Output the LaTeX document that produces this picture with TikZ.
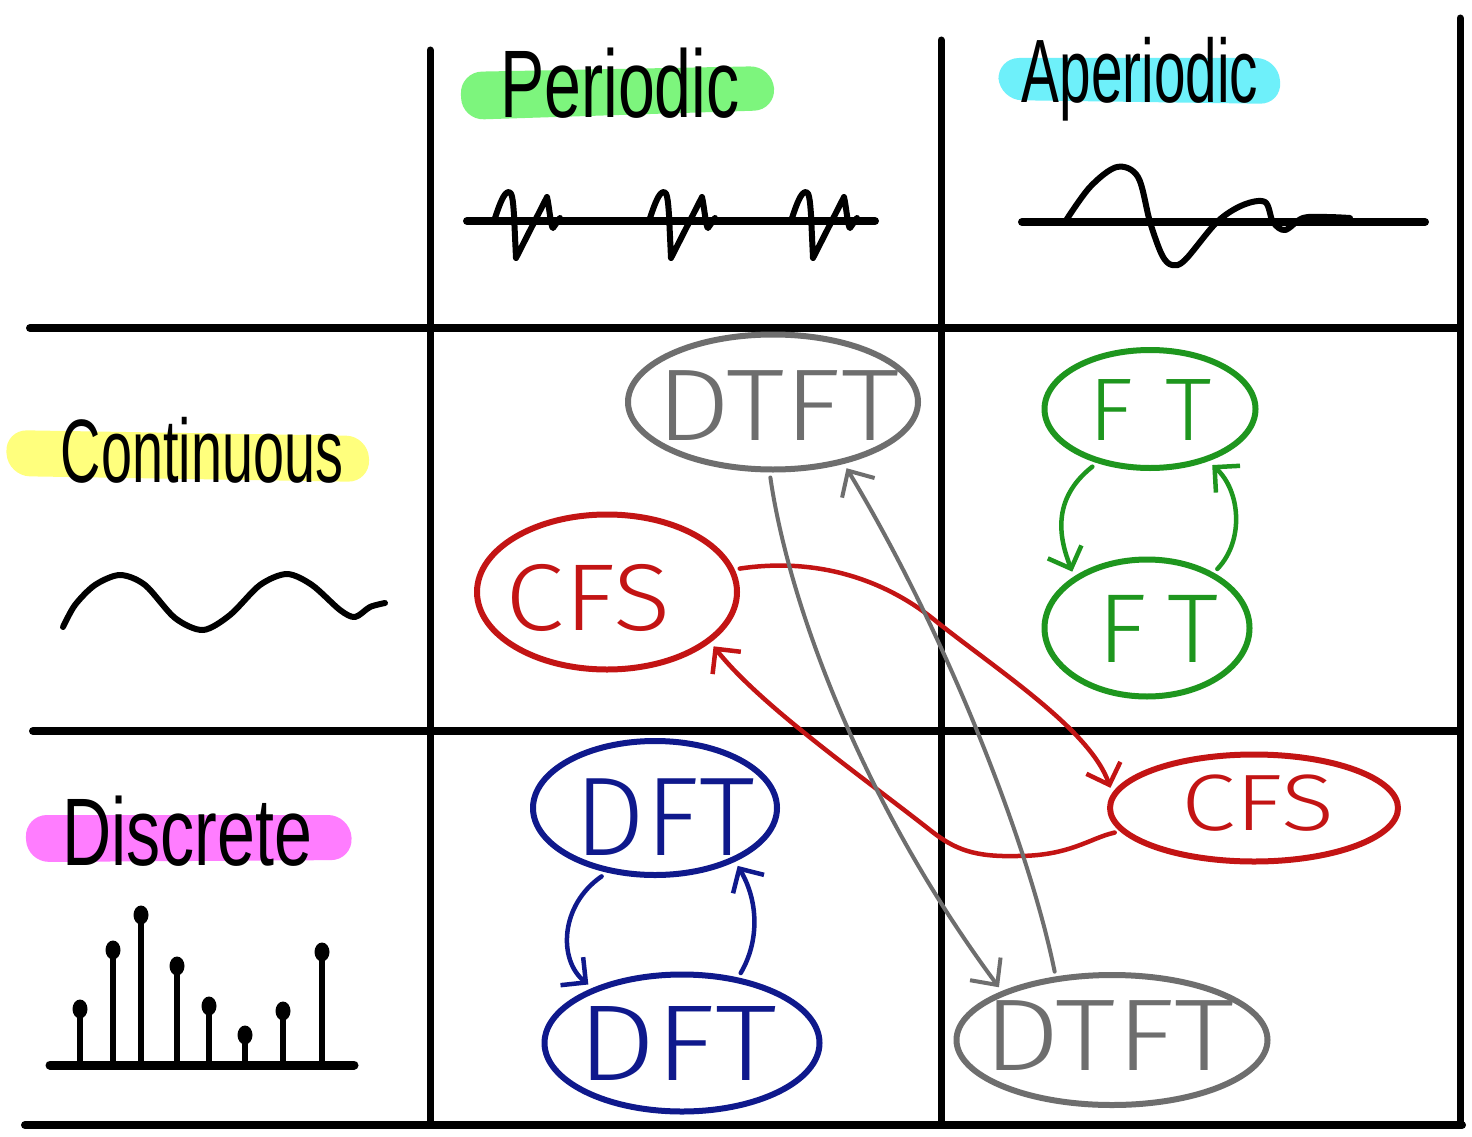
\documentclass[tikz,border=0pt]{standalone}
\usepackage{fontspec}
\setmainfont{Liberation Sans}
\IfFontExistsTF{Fira Sans Light}{\newfontfamily\handfont{Fira Sans Light}}{%
  \IfFontExistsTF{Lato Light}{\newfontfamily\handfont{Lato Light}}{%
    \IfFontExistsTF{Open Sans Light}{\newfontfamily\handfont{Open Sans Light}}{%
      \newfontfamily\handfont{Carlito}}}}
\usepackage{graphicx}
\usetikzlibrary{arrows.meta,shapes.geometric}
\definecolor{hlgreen}{RGB}{125,245,125}
\definecolor{hlcyan}{RGB}{110,240,250}
\definecolor{hlyellow}{RGB}{255,255,125}
\definecolor{hlpink}{RGB}{255,125,255}
\definecolor{cgray}{RGB}{110,110,110}
\definecolor{cred}{RGB}{195,20,20}
\definecolor{cgreen}{RGB}{30,150,30}
\definecolor{cblue}{RGB}{15,25,140}
\newcommand{\etx}[5]{\makebox[0pt]{\hspace*{#1}\raisebox{#2}{\handfont\fontsize{#3}{#3}\selectfont\scalebox{#4}[1]{#5}}}}
\begin{document}
\begin{tikzpicture}[x=1pt,y=-1pt,line cap=round,line join=round,
  gridline/.style={line width=7pt},
  wave/.style={line width=6pt},
  hl/.style={rounded corners=22pt},
  title/.style={inner sep=0pt,anchor=base},
  ell/.style={ellipse,draw,line width=6pt,inner sep=0pt,outer sep=8pt,text height=0pt,text depth=0pt},
  conn/.style={line width=4.5pt,-{Straight Barb[length=18pt,width=36pt]}},
  gconn/.style={line width=4pt,-{Straight Barb[length=20pt,width=38pt]}}]
\useasboundingbox (0,0) rectangle (1472,1137);
\fill[white] (0,0) rectangle (1472,1137);
% grid
\draw[gridline] (430,50) -- (430,1125);
\draw[gridline] (941,40) -- (941,1125);
\draw[gridline] (1460,18) -- (1460,1125);
\draw[gridline,line width=8pt] (30,328) -- (1458,328);
\draw[gridline,line width=8pt] (33,731) -- (1458,731);
\draw[gridline,line width=8pt] (25,1125) -- (1462,1125);
% highlights
\fill[hlgreen,hl] (460,72) -- (772,66) -- (776,110) -- (462,120) -- cycle;
\fill[hlcyan,hl] (997,58) -- (1278,58) -- (1282,104) -- (1000,100) -- cycle;
\fill[hlyellow,hl] (5,430) -- (368,436) -- (370,482) -- (8,476) -- cycle;
\fill[hlpink,hl] (25,815) -- (350,815) -- (353,860) -- (27,862) -- cycle;
% titles
\node[title,font=\fontsize{96}{110}\selectfont] (periodic) at (620,118) {\scalebox{0.69}[1]{Periodic}};
\node[title,font=\fontsize{90}{104}\selectfont] (aperiodic) at (1140,103) {\scalebox{0.63}[1]{Aperiodic}};
\node[title,font=\fontsize{90}{104}\selectfont] (continuous) at (202,482) {\scalebox{0.62}[1]{Continuous}};
\node[title,font=\fontsize{96}{110}\selectfont] (discrete) at (187,865) {\scalebox{0.71}[1]{Discrete}};
% periodic wave
\draw[line width=8pt] (467,221) -- (875,221);
\foreach \dx in {0,155,297}{
  \draw[wave,xshift=\dx pt] (494,221) .. controls (500,203) and (504,192) .. (509,192)
    .. controls (512,192) and (513,200) .. (514,215) -- (516,258) -- (547,197)
    .. controls (549,205) and (551,228) .. (553,228) -- (560,218);
}
% aperiodic wave
\draw[line width=8pt] (1022,222) -- (1425,222);
\draw[wave] plot[smooth,tension=0.55] coordinates {(1065,222) (1090,187) (1117,167) (1138,177) (1150,222) (1162,255) (1172,265) (1185,260) (1217,222) (1243,205) (1265,202) (1273,222) (1285,230) (1303,218) (1327,217) (1350,218)};
% continuous wave
\draw[wave] plot[smooth] coordinates {(63,627) (75,605) (95,585) (120,575) (145,585) (175,618) (203,630) (230,615) (260,585) (287,574) (312,585) (340,610) (355,617) (370,607) (385,603)};
% discrete stems
\draw[line width=9pt] (50,1065) -- (354,1065);
\foreach \sx/\sy in {80/1009,113/950,141/915,177/966,209/1006,245/1035,283/1011,322/952}{
  \draw[line width=5.5pt] (\sx,1065) -- (\sx,\sy);
  \fill (\sx,\sy) ellipse [x radius=7.5,y radius=9.5];
}
% ellipse nodes
\node[ell,cgray,minimum width=290pt,minimum height=135pt] (dtftA) at (773,402) {\etx{10pt}{-38pt}{102}{1.15}{DTFT}};
\node[ell,cred,minimum width=260pt,minimum height=155pt] (cfsA) at (607,592) {\etx{-38pt}{-38pt}{95}{1.12}{CFS}};
\node[ell,cgreen,minimum width=211pt,minimum height=118pt] (ftA) at (1150,409) {\etx{0pt}{-31pt}{89}{1.05}{F\hspace{30pt}T}};
\node[ell,cgreen,minimum width=205pt,minimum height=137pt] (ftB) at (1147,628) {\etx{22pt}{-34pt}{98}{1.05}{F\hspace{20pt}T}};
\node[ell,cblue,minimum width=244pt,minimum height=134pt] (dftA) at (655,808) {\etx{20pt}{-47pt}{112}{1.0}{DFT}};
\node[ell,cblue,minimum width=275pt,minimum height=137pt] (dftB) at (682,1043) {\etx{-10pt}{-37pt}{108}{1.15}{DFT}};
\node[ell,cred,minimum width=288pt,minimum height=107pt] (cfsB) at (1254,808) {\etx{8pt}{-22pt}{80}{1.23}{CFS}};
\node[ell,cgray,minimum width=311pt,minimum height=130pt] (dtftB) at (1112,1040) {\etx{-6pt}{-30pt}{102}{1.19}{DTFT}};
% connectors
\draw[conn,cgreen] (ftA.225) .. controls (1050,500) and (1060,540) .. (ftB.143);
\draw[conn,cgreen] (ftB.40) .. controls (1245,540) and (1240,490) .. (ftA.318);
\draw[conn,cblue] (dftA.232) .. controls (560,905) and (558,960) .. (dftB.148);
\draw[conn,cblue] (dftB.50) .. controls (760,940) and (758,900) .. (dftA.325);
\draw[conn,cred] (cfsA.10) .. controls (810,558) and (880,575) .. (937,622)
  .. controls (1000,672) and (1090,730) .. (cfsB.172);
\draw[conn,cred] (cfsB.190) .. controls (1090,838) and (1070,856) .. (1017,856)
  .. controls (975,857) and (955,850) .. (930,830)
  .. controls (860,775) and (760,705) .. (cfsA.333);
\draw[gconn,cgray] (dtftA.268) .. controls (788,600) and (860,800) .. (dtftB.155);
\draw[gconn,cgray] (dtftB.130) .. controls (1030,850) and (950,640) .. (dtftA.318);
\end{tikzpicture}
\end{document}
